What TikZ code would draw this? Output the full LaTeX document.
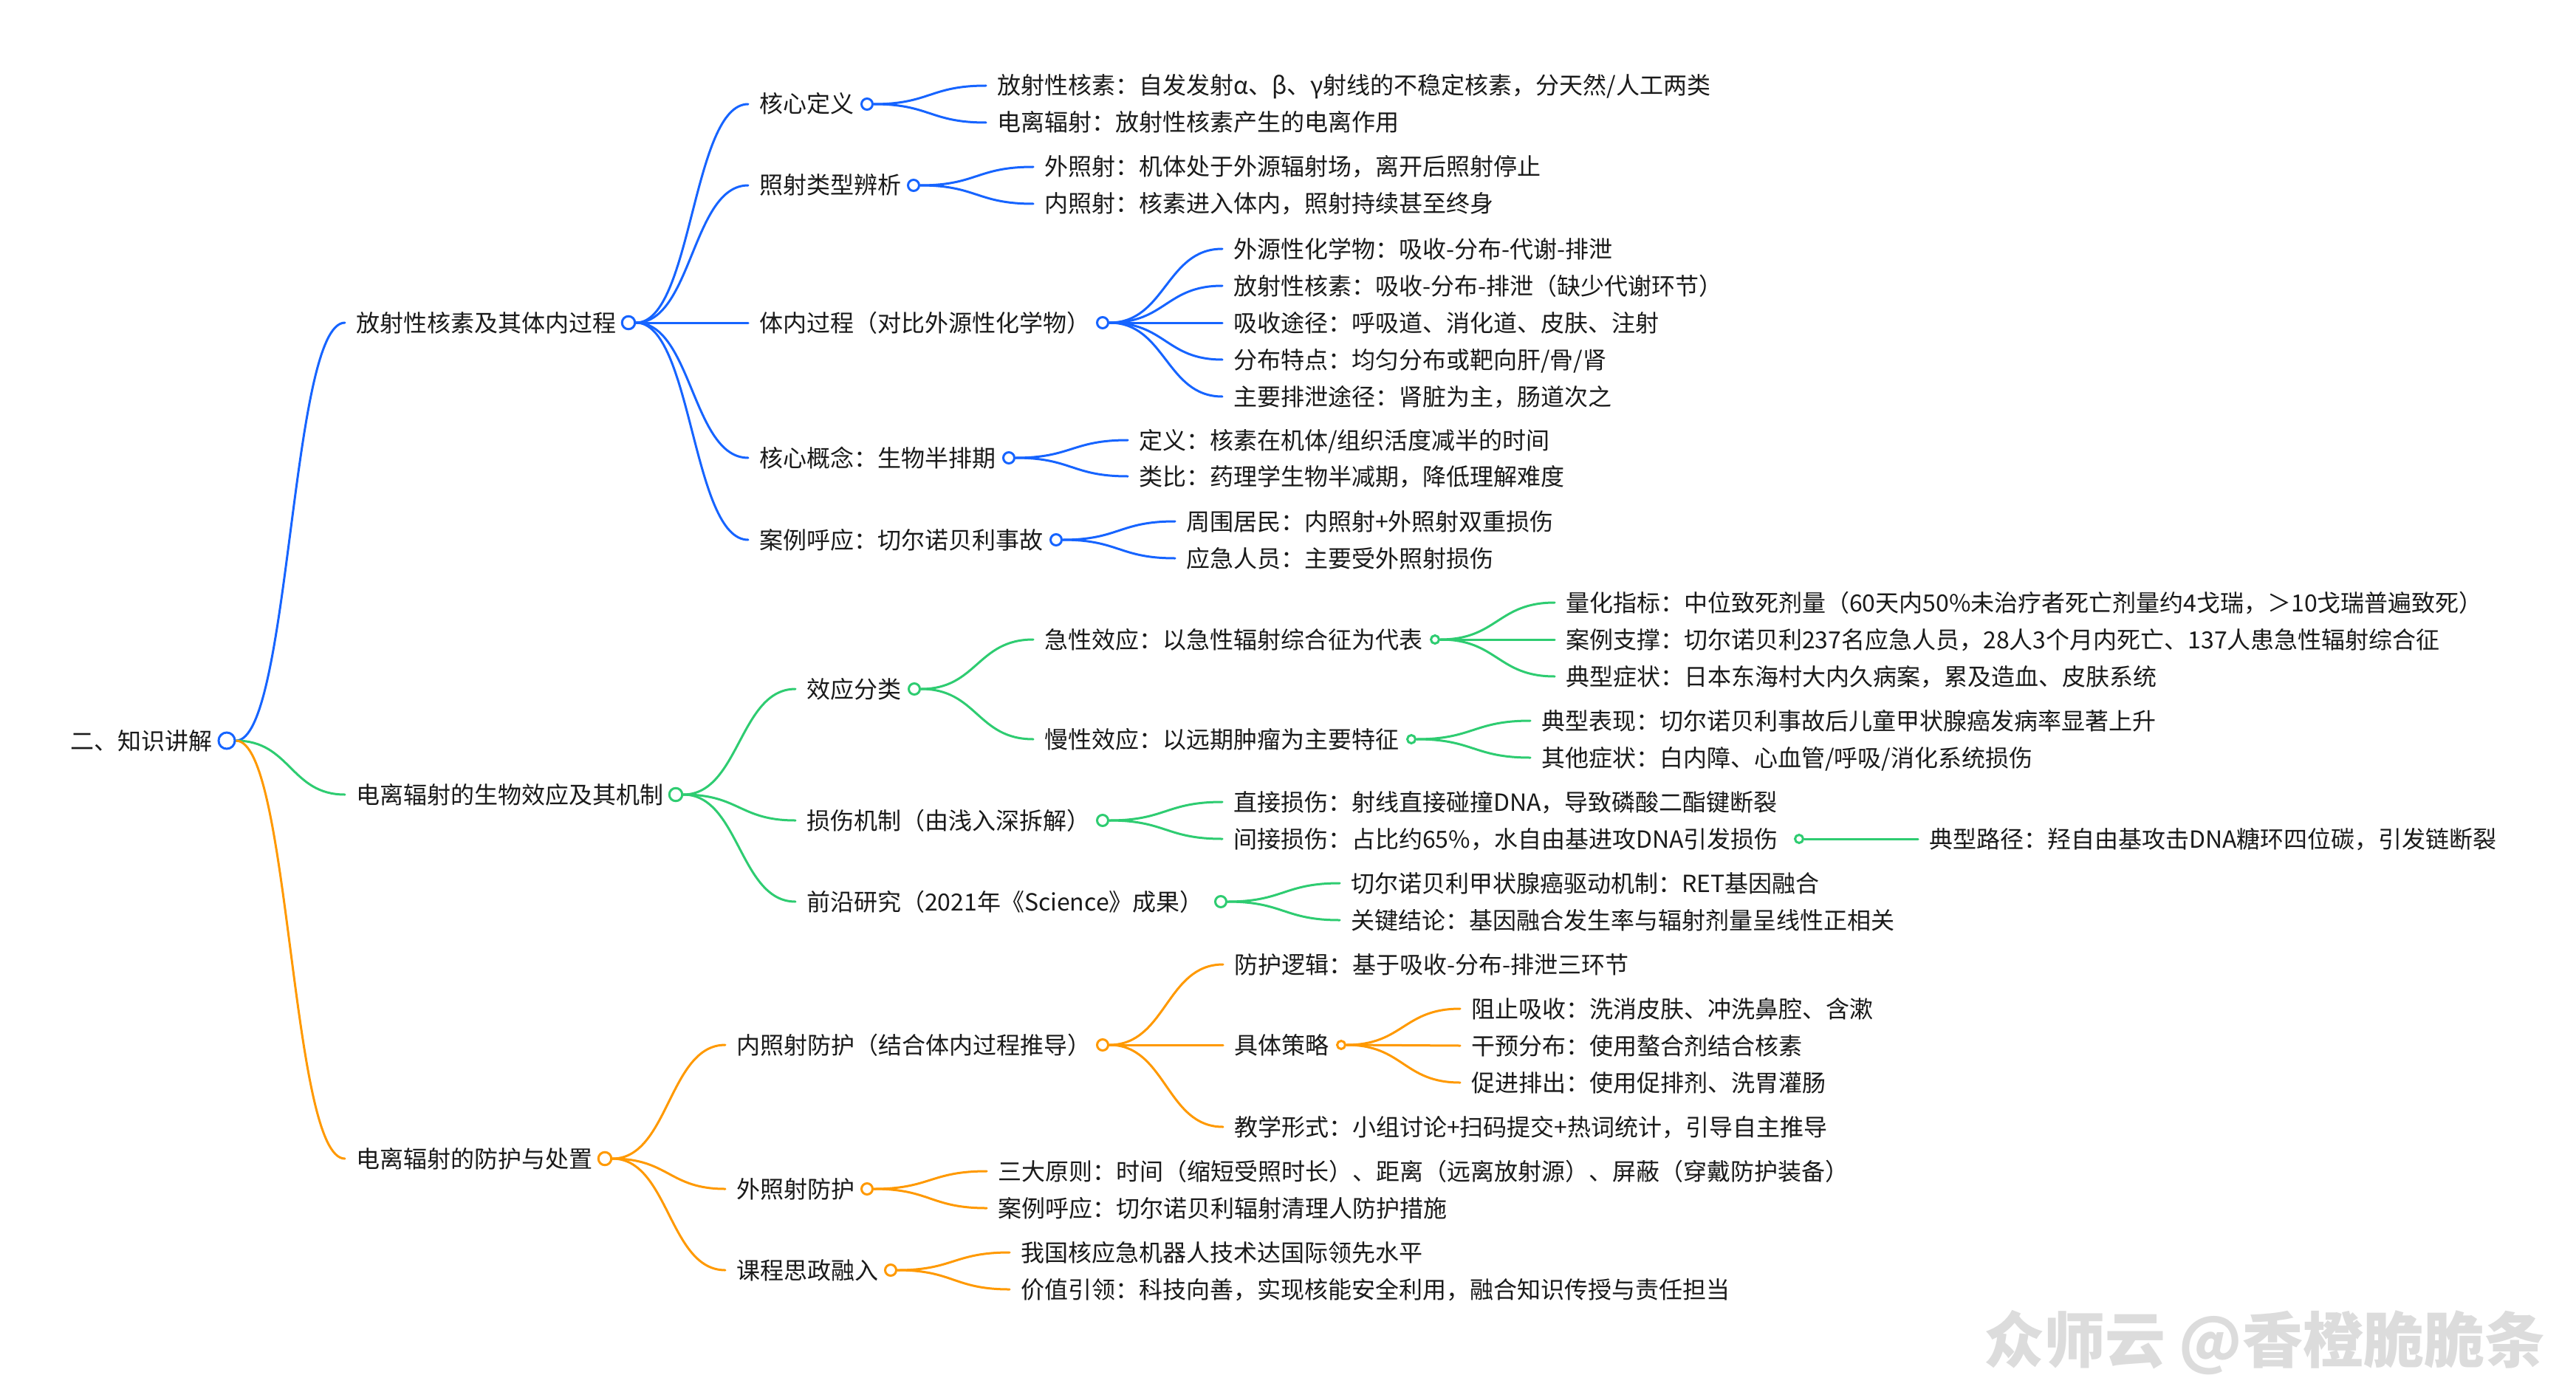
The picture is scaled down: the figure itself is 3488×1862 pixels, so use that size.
\documentclass[tikz,border=0pt]{standalone}
\usepackage{fontspec}
\setmainfont{Noto Sans CJK SC}
\usetikzlibrary{calc}
\definecolor{mblue}{RGB}{22,100,255}
\definecolor{mgreen}{RGB}{46,204,113}
\definecolor{morange}{RGB}{255,153,0}
\definecolor{mtext}{RGB}{26,26,26}
\definecolor{mwater}{RGB}{220,220,220}
\pgfdeclarelayer{bg}
\pgfsetlayers{bg,main}
\newcommand\mmlink[3]{%
  \path (#2.east) coordinate (mmA) ($(#3.west)+(-15,0)$) coordinate (mmB);
  \path ($(mmA)!0.5!(mmB)$) coordinate (mmM);
  \begin{pgfonlayer}{bg}
  \draw[#1] (mmA) .. controls (mmM |- mmA) and (mmM |- mmB) .. (mmB);
  \end{pgfonlayer}}
\begin{document}
\begin{tikzpicture}[x=1pt,y=-1pt,
  tx/.style={anchor=west, inner sep=0pt, outer sep=0pt, text=mtext,
    font=\fontsize{32pt}{36pt}\selectfont, text height=28pt, text depth=4pt},
  cc/.style={circle, fill=white, line width=3pt, inner sep=0pt},
  c0/.style={cc, minimum size=22pt},
  c1/.style={cc, minimum size=17.5pt},
  c2/.style={cc, minimum size=15pt},
  c3/.style={cc, minimum size=11pt},
  lb/.style={draw=mblue, line width=3pt, line cap=round},
  lg/.style={draw=mgreen, line width=3pt, line cap=round},
  lo/.style={draw=morange, line width=3pt, line cap=round}]
\begin{pgfonlayer}{bg}
\fill[white] (0,0) rectangle (3488,1862);
\end{pgfonlayer}
\useasboundingbox (0,0) rectangle (3488,1862);

% root
\node[tx] (r) at (95,1003) {二、知识讲解};
\node[c0, draw=mblue] (rc) at (307,1003) {};

% level 1
\node[tx] (b1) at (482,437) {放射性核素及其体内过程};
\node[c1, draw=mblue] (b1c) at (851,437) {};
\node[tx] (g1) at (482,1076) {电离辐射的生物效应及其机制};
\node[c1, draw=mgreen] (g1c) at (915,1076) {};
\node[tx] (o1) at (482,1569) {电离辐射的防护与处置};
\node[c1, draw=morange] (o1c) at (819,1569) {};

% blue level 2
\node[tx] (b11) at (1028,141) {核心定义};
\node[c2, draw=mblue] (b11c) at (1174,141) {};
\node[tx] (b12) at (1028,251) {照射类型辨析};
\node[c2, draw=mblue] (b12c) at (1237,251) {};
\node[tx] (b13) at (1028,437) {体内过程（对比外源性化学物）};
\node[c2, draw=mblue] (b13c) at (1493,437) {};
\node[tx] (b14) at (1028,620) {核心概念：生物半排期};
\node[c2, draw=mblue] (b14c) at (1366,620) {};
\node[tx] (b15) at (1028,731) {案例呼应：切尔诺贝利事故};
\node[c2, draw=mblue] (b15c) at (1430,731) {};

% blue level 3
\node[tx] (b111) at (1350,116) {放射性核素：自发发射α、β、γ射线的不稳定核素，分天然/人工两类};
\node[tx] (b112) at (1350,166) {电离辐射：放射性核素产生的电离作用};
\node[tx] (b121) at (1414,226) {外照射：机体处于外源辐射场，离开后照射停止};
\node[tx] (b122) at (1414,276) {内照射：核素进入体内，照射持续甚至终身};
\node[tx] (b131) at (1670,337) {外源性化学物：吸收-分布-代谢-排泄};
\node[tx] (b132) at (1670,387) {放射性核素：吸收-分布-排泄（缺少代谢环节）};
\node[tx] (b133) at (1670,437) {吸收途径：呼吸道、消化道、皮肤、注射};
\node[tx] (b134) at (1670,487) {分布特点：均匀分布或靶向肝/骨/肾};
\node[tx] (b135) at (1670,537) {主要排泄途径：肾脏为主，肠道次之};
\node[tx] (b141) at (1542,596) {定义：核素在机体/组织活度减半的时间};
\node[tx] (b142) at (1542,645) {类比：药理学生物半减期，降低理解难度};
\node[tx] (b151) at (1606,706) {周围居民：内照射+外照射双重损伤};
\node[tx] (b152) at (1606,756) {应急人员：主要受外照射损伤};

% green level 2
\node[tx] (g11) at (1092,933) {效应分类};
\node[c2, draw=mgreen] (g11c) at (1238,933) {};
\node[tx] (g12) at (1092,1111) {损伤机制（由浅入深拆解）};
\node[c2, draw=mgreen] (g12c) at (1493,1111) {};
\node[tx] (g13) at (1092,1221) {前沿研究（2021年《Science》成果）};
\node[c2, draw=mgreen] (g13c) at (1653,1221) {};

% green level 3
\node[tx] (g111) at (1414,866) {急性效应：以急性辐射综合征为代表};
\node[c3, draw=mgreen] (g111c) at (1943,866) {};
\node[tx] (g112) at (1414,1001) {慢性效应：以远期肿瘤为主要特征};
\node[c3, draw=mgreen] (g112c) at (1911,1001) {};
\node[tx] (g121) at (1670,1086) {直接损伤：射线直接碰撞DNA，导致磷酸二酯键断裂};
\node[tx] (g122) at (1670,1136) {间接损伤：占比约65\%，水自由基进攻DNA引发损伤};
\node[c3, draw=mgreen] (g122c) at (2436,1136) {};
\node[tx] (g131) at (1829,1196) {切尔诺贝利甲状腺癌驱动机制：RET基因融合};
\node[tx] (g132) at (1829,1246) {关键结论：基因融合发生率与辐射剂量呈线性正相关};

% green level 4
\node[tx] (g1111) at (2120,816) {量化指标：中位致死剂量（60天内50\%未治疗者死亡剂量约4戈瑞，＞10戈瑞普遍致死）};
\node[tx] (g1112) at (2120,866) {案例支撑：切尔诺贝利237名应急人员，28人3个月内死亡、137人患急性辐射综合征};
\node[tx] (g1113) at (2120,916) {典型症状：日本东海村大内久病案，累及造血、皮肤系统};
\node[tx] (g1121) at (2087,976) {典型表现：切尔诺贝利事故后儿童甲状腺癌发病率显著上升};
\node[tx] (g1122) at (2087,1026) {其他症状：白内障、心血管/呼吸/消化系统损伤};
\node[tx] (g1221) at (2612,1136) {典型路径：羟自由基攻击DNA糖环四位碳，引发链断裂};

% orange level 2
\node[tx] (o11) at (997,1415) {内照射防护（结合体内过程推导）};
\node[c2, draw=morange] (o11c) at (1493,1415) {};
\node[tx] (o12) at (997,1610) {外照射防护};
\node[c2, draw=morange] (o12c) at (1174,1610) {};
\node[tx] (o13) at (997,1720) {课程思政融入};
\node[c2, draw=morange] (o13c) at (1206,1720) {};

% orange level 3
\node[tx] (o111) at (1671,1306) {防护逻辑：基于吸收-分布-排泄三环节};
\node[tx] (o112) at (1671,1415) {具体策略};
\node[c3, draw=morange] (o112c) at (1816,1415) {};
\node[tx] (o113) at (1671,1526) {教学形式：小组讨论+扫码提交+热词统计，引导自主推导};
\node[tx] (o121) at (1351,1586) {三大原则：时间（缩短受照时长）、距离（远离放射源）、屏蔽（穿戴防护装备）};
\node[tx] (o122) at (1351,1636) {案例呼应：切尔诺贝利辐射清理人防护措施};
\node[tx] (o131) at (1382,1696) {我国核应急机器人技术达国际领先水平};
\node[tx] (o132) at (1382,1746) {价值引领：科技向善，实现核能安全利用，融合知识传授与责任担当};

% orange level 4
\node[tx] (o1121) at (1992,1366) {阻止吸收：洗消皮肤、冲洗鼻腔、含漱};
\node[tx] (o1122) at (1992,1416) {干预分布：使用螯合剂结合核素};
\node[tx] (o1123) at (1992,1466) {促进排出：使用促排剂、洗胃灌肠};

% watermark
\node[anchor=west, inner sep=0pt, text=mwater, font=\fontsize{82pt}{90pt}\selectfont\bfseries] (wm) at (2686,1818) {众师云 @香橙脆脆条};

% links
\mmlink{lb}{rc}{b1}
\mmlink{lg}{rc}{g1}
\mmlink{lo}{rc}{o1}

\mmlink{lb}{b1c}{b11}
\mmlink{lb}{b1c}{b12}
\mmlink{lb}{b1c}{b13}
\mmlink{lb}{b1c}{b14}
\mmlink{lb}{b1c}{b15}
\mmlink{lb}{b11c}{b111}
\mmlink{lb}{b11c}{b112}
\mmlink{lb}{b12c}{b121}
\mmlink{lb}{b12c}{b122}
\mmlink{lb}{b13c}{b131}
\mmlink{lb}{b13c}{b132}
\mmlink{lb}{b13c}{b133}
\mmlink{lb}{b13c}{b134}
\mmlink{lb}{b13c}{b135}
\mmlink{lb}{b14c}{b141}
\mmlink{lb}{b14c}{b142}
\mmlink{lb}{b15c}{b151}
\mmlink{lb}{b15c}{b152}

\mmlink{lg}{g1c}{g11}
\mmlink{lg}{g1c}{g12}
\mmlink{lg}{g1c}{g13}
\mmlink{lg}{g11c}{g111}
\mmlink{lg}{g11c}{g112}
\mmlink{lg}{g111c}{g1111}
\mmlink{lg}{g111c}{g1112}
\mmlink{lg}{g111c}{g1113}
\mmlink{lg}{g112c}{g1121}
\mmlink{lg}{g112c}{g1122}
\mmlink{lg}{g12c}{g121}
\mmlink{lg}{g12c}{g122}
\mmlink{lg}{g122c}{g1221}
\mmlink{lg}{g13c}{g131}
\mmlink{lg}{g13c}{g132}

\mmlink{lo}{o1c}{o11}
\mmlink{lo}{o1c}{o12}
\mmlink{lo}{o1c}{o13}
\mmlink{lo}{o11c}{o111}
\mmlink{lo}{o11c}{o112}
\mmlink{lo}{o11c}{o113}
\mmlink{lo}{o112c}{o1121}
\mmlink{lo}{o112c}{o1122}
\mmlink{lo}{o112c}{o1123}
\mmlink{lo}{o12c}{o121}
\mmlink{lo}{o12c}{o122}
\mmlink{lo}{o13c}{o131}
\mmlink{lo}{o13c}{o132}
\end{tikzpicture}
\end{document}
